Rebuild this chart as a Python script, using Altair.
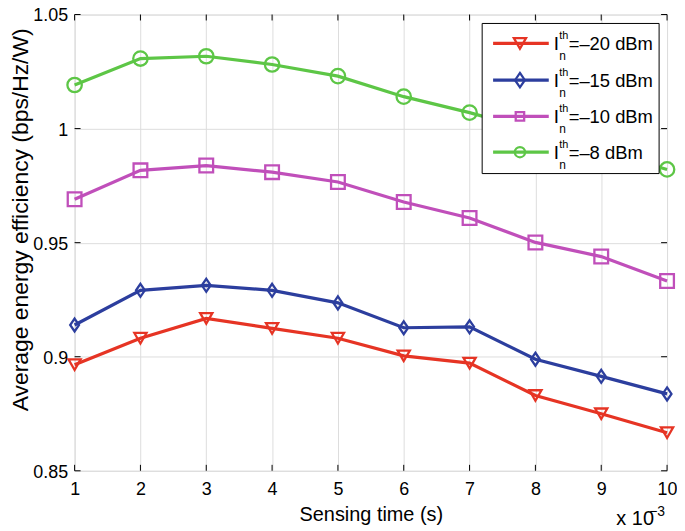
import altair as alt
import pandas as pd

# ---- data ----
sensing_time = [1, 2, 3, 4, 5, 6, 7, 8, 9, 10]
series_names = ["-20 dBm", "-15 dBm", "-10 dBm", "-8 dBm"]
ee_m20 = [0.8965, 0.9081, 0.9168, 0.9124, 0.9081, 0.9004, 0.8972, 0.8830, 0.8750, 0.8667]
ee_m15 = [0.9139, 0.9291, 0.9313, 0.9291, 0.9236, 0.9127, 0.9131, 0.8989, 0.8914, 0.8837]
ee_m10 = [0.9690, 0.9817, 0.9838, 0.9809, 0.9766, 0.9678, 0.9608, 0.9501, 0.9439, 0.9332]
ee_m8 = [1.0191, 1.0307, 1.0317, 1.0281, 1.0230, 1.0140, 1.0070, 0.9990, 0.9905, 0.9821]
legend_rest = ["=\u201320 dBm", "=\u201315 dBm", "=\u201310 dBm", "=\u20138 dBm"]
x_ticks = [1, 2, 3, 4, 5, 6, 7, 8, 9, 10]
y_ticks = [0.85, 0.9, 0.95, 1.0, 1.05]
x_title = "Sensing time (s)"
y_title = "Average energy efficiency (bps/Hz/W)"
exp_base = "x 10"
exp_power = "\u22123"

# ---- style ----
colors = ["#e63424", "#2c3e9e", "#c04fba", "#5dc646"]
shapes = ["triangle-down", "M0,-1L0.68,0L0,1L-0.68,0Z", "square", "circle"]
sizes = [150, 210, 72, 105]
FONT = "Liberation Sans"
W, H = 596, 459

rows = []
for name, vals in zip(series_names, [ee_m20, ee_m15, ee_m10, ee_m8]):
    for t, v in zip(sensing_time, vals):
        rows.append({"t": t, "ee": v, "series": name})
df = pd.DataFrame(rows)

xs = alt.Scale(domain=[1, 10], nice=False, zero=False)
ys = alt.Scale(domain=[0.85, 1.05], nice=False, zero=False)
cs = alt.Scale(domain=series_names, range=colors)

x_enc = alt.X(
    "t:Q", scale=xs,
    axis=alt.Axis(values=x_ticks, format="d", title=x_title, grid=True,
                  ticks=False, tickSize=0, domain=False, labelFlush=False,
                  labelPadding=10, labelFontSize=18,
                  titleFontSize=20, titleFontWeight="normal", titleFont=FONT,
                  titleY=44, titleBaseline="middle"),
)
y_enc = alt.Y(
    "ee:Q", scale=ys,
    axis=alt.Axis(values=y_ticks, format="~g", title=y_title, grid=True,
                  ticks=False, tickSize=0, domain=False, labelFlush=False,
                  labelPadding=7, labelFontSize=18, labelOffset=1.5,
                  titleFontSize=23, titleFontWeight="normal", titleFont=FONT,
                  titleX=-54, titleY=206, titleBaseline="middle",
                  titleAngle=270),
)

base = alt.Chart(df)
lines = base.mark_line(strokeWidth=3.2).encode(
    x=x_enc, y=y_enc,
    color=alt.Color("series:N", scale=cs, legend=None),
    detail="series:N",
)
points = base.mark_point(filled=False, strokeWidth=2.3, opacity=1).encode(
    x="t:Q", y="ee:Q",
    color=alt.Color("series:N", scale=cs, legend=None),
    shape=alt.Shape("series:N", scale=alt.Scale(domain=series_names, range=shapes), legend=None),
    size=alt.Size("series:N", scale=alt.Scale(domain=series_names, range=sizes), legend=None),
)

# inward ticks on all four sides
xt = alt.Chart(pd.DataFrame({"t": x_ticks}))
yt = alt.Chart(pd.DataFrame({"ee": y_ticks}))
tick_layers = [
    xt.mark_rule(color="black", strokeWidth=1).encode(x="t:Q", y=alt.value(H), y2=alt.value(H - 6)),
    xt.mark_rule(color="black", strokeWidth=1).encode(x="t:Q", y=alt.value(0), y2=alt.value(6)),
    yt.mark_rule(color="black", strokeWidth=1).encode(y="ee:Q", x=alt.value(0), x2=alt.value(6)),
    yt.mark_rule(color="black", strokeWidth=1).encode(y="ee:Q", x=alt.value(W - 6), x2=alt.value(W)),
]

# exponent note
one = alt.Chart(pd.DataFrame({"a": [exp_base], "b": [exp_power]}))
exp_layers = [
    one.mark_text(font=FONT, fontSize=20, align="left", baseline="middle").encode(
        x=alt.value(545), y=alt.value(508), text="a:N"),
    one.mark_text(font=FONT, fontSize=14, align="left", baseline="middle").encode(
        x=alt.value(578), y=alt.value(500), text="b:N"),
]

# hand-made legend (for the I_n^th label)
leg_df = pd.DataFrame({"series": series_names, "rest": legend_rest})
LX0, LX1, LY0, LY1 = 410, 588, 9, 160
row_y = [29, 66, 102.5, 138.5]
legend_layers = [
    alt.Chart(pd.DataFrame({"a": [0]})).mark_rect(fill="white", stroke="black", strokeWidth=1).encode(
        x=alt.value(LX0), x2=alt.value(LX1), y=alt.value(LY0), y2=alt.value(LY1)),
]
for i, name in enumerate(series_names):
    d = alt.Chart(leg_df[leg_df.series == name])
    ry = row_y[i]
    legend_layers += [
        d.mark_rule(strokeWidth=3.2, color=colors[i]).encode(
            x=alt.value(421), x2=alt.value(477), y=alt.value(ry)),
        d.mark_point(filled=False, strokeWidth=2.3, opacity=1, color=colors[i],
                     shape=shapes[i], size=sizes[i]).encode(
            x=alt.value(448), y=alt.value(ry)),
        d.mark_text(font=FONT, fontSize=19, align="left", baseline="middle", text="I").encode(
            x=alt.value(482), y=alt.value(ry + 1)),
        d.mark_text(font=FONT, fontSize=11, align="left", baseline="middle", text="th").encode(
            x=alt.value(487.5), y=alt.value(ry - 7)),
        d.mark_text(font=FONT, fontSize=12, align="left", baseline="middle", text="n").encode(
            x=alt.value(487.5), y=alt.value(ry + 13)),
        d.mark_text(font=FONT, fontSize=18.5, align="left", baseline="middle").encode(
            x=alt.value(497), y=alt.value(ry + 1), text="rest:N"),
    ]

chart = alt.layer(lines, points, *tick_layers, *exp_layers, *legend_layers).properties(
    width=W, height=H,
    autosize=alt.AutoSizeParams(type="none"),
    padding={"left": 67, "top": 5, "right": 10, "bottom": 58},
).configure_view(
    stroke="black", strokeWidth=1,
).configure_axis(
    labelFont=FONT, titleFont=FONT, labelColor="black", titleColor="black",
    titleFontWeight="normal", gridColor="#222222", gridDash=[1, 5],
    gridOpacity=1, gridWidth=1,
).configure(background="white")

chart.save("out.html", embed_options={"renderer": "svg", "actions": False})
